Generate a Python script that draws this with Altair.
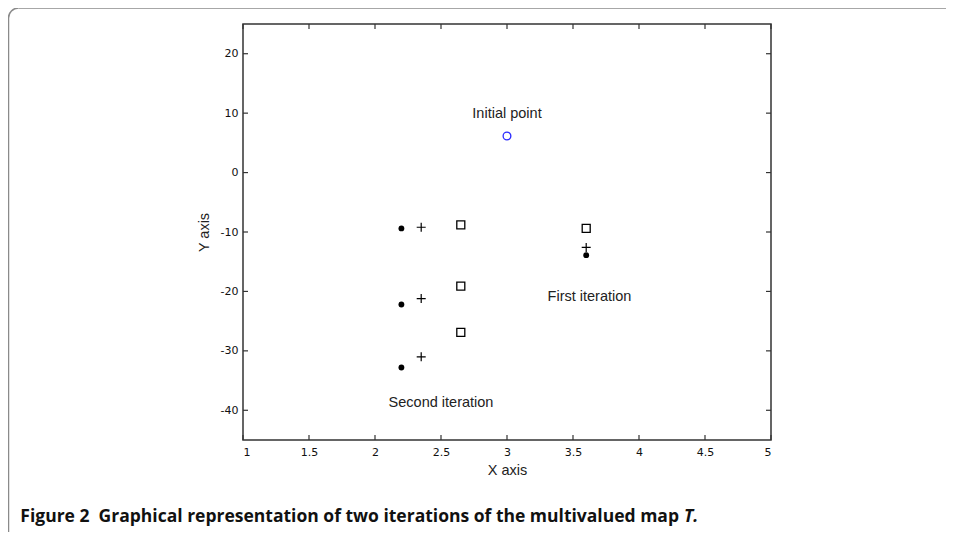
import altair as alt
import pandas as pd

# ---- data ----
x_ticks = [1, 1.5, 2, 2.5, 3, 3.5, 4, 4.5, 5]
y_ticks = [-40, -30, -20, -10, 0, 10, 20]

initial_x = [3.0]
initial_y = [6.15]

dot_x = [2.2, 2.2, 2.2, 3.6]
dot_y = [-9.4, -22.2, -32.8, -13.9]

plus_x = [2.35, 2.35, 2.35, 3.6]
plus_y = [-9.2, -21.2, -31.0, -12.6]

square_x = [2.65, 2.65, 2.65, 3.6]
square_y = [-8.8, -19.1, -26.9, -9.4]

label_text = ["Initial point", "First iteration", "Second iteration"]
label_x = [3.0, 3.625, 2.5]
label_y = [9.8, -21.0, -38.8]

caption_main = "Figure 2\u00a0 Graphical representation of two iterations of the multivalued map"
caption_tail = "T."

# ---- layout ----
W, H = 528, 416
FONT = "Liberation Sans"
TICKFONT = "DejaVu Sans"
INK = "#333333"
BORDER = "#8a8a8a"

xs = alt.Scale(domain=[1, 5], nice=False, zero=False)
ys = alt.Scale(domain=[-45, 25], nice=False, zero=False)

xaxis = alt.Axis(values=x_ticks, labelExpr="toString(datum.value)", title="X axis",
                 ticks=False, domain=False, grid=False, labelPadding=6, titlePadding=6,
                 labelFontSize=11, titleFontSize=14.5, labelColor="#111", titleColor="#222",
                 labelFont=TICKFONT, titleFont=FONT, titleFontWeight="normal")
yaxis = alt.Axis(values=y_ticks, labelExpr="toString(datum.value)", title="Y axis",
                 ticks=False, domain=False, grid=False, labelPadding=5, titlePadding=9,
                 labelFontSize=11, titleFontSize=14.5, labelColor="#111", titleColor="#222",
                 labelFont=TICKFONT, titleFont=FONT, titleFontWeight="normal")

X = alt.X("x:Q", scale=xs, axis=xaxis)
Y = alt.Y("y:Q", scale=ys, axis=yaxis)

df_init = pd.DataFrame({"x": initial_x, "y": initial_y})
df_dot = pd.DataFrame({"x": dot_x, "y": dot_y})
df_plus = pd.DataFrame({"x": plus_x, "y": plus_y})
df_sq = pd.DataFrame({"x": square_x, "y": square_y})
df_lab = pd.DataFrame({"x": label_x, "y": label_y, "t": label_text})
df_xt = pd.DataFrame({"x": x_ticks})
df_yt = pd.DataFrame({"y": y_ticks})
one = pd.DataFrame({"a": [0]})

init = alt.Chart(df_init).mark_point(shape="circle", filled=False, color="#2b2bff",
                                     strokeWidth=1.3, size=60, opacity=1).encode(x=X, y=Y)
dots = alt.Chart(df_dot).mark_point(shape="circle", filled=True, color="black",
                                    size=34, opacity=1).encode(x=X, y=Y)
plus = alt.Chart(df_plus).mark_point(shape="M-1,0L1,0M0,-1L0,1", filled=False, color="black",
                                     strokeWidth=1.2, size=81, opacity=1).encode(x=X, y=Y)
squares = alt.Chart(df_sq).mark_point(shape="square", filled=False, color="black",
                                      strokeWidth=1.3, size=64, opacity=1).encode(x=X, y=Y)
labels = alt.Chart(df_lab).mark_text(font=FONT, fontSize=14.5, color="#222", align="center",
                                     baseline="middle").encode(x=X, y=Y, text="t:N")

xt_bot = alt.Chart(df_xt).mark_rule(color=INK, strokeWidth=1.2).encode(
    x=X, y=alt.value(H), y2=alt.value(H - 5))
xt_top = alt.Chart(df_xt).mark_rule(color=INK, strokeWidth=1.2).encode(
    x=X, y=alt.value(0), y2=alt.value(5))
yt_left = alt.Chart(df_yt).mark_rule(color=INK, strokeWidth=1.2).encode(
    y=Y, x=alt.value(0), x2=alt.value(5))
yt_right = alt.Chart(df_yt).mark_rule(color=INK, strokeWidth=1.2).encode(
    y=Y, x=alt.value(W), x2=alt.value(W - 5))

# outer figure frame: only its top and left edges are visible, with a rounded corner
BX, BY, R = -234.5, -16.0, 10.0
top_edge = alt.Chart(one).mark_rule(color=BORDER, strokeWidth=1.5).encode(
    x=alt.value(BX + R), x2=alt.value(W + 175), y=alt.value(BY))
left_edge = alt.Chart(one).mark_rule(color=BORDER, strokeWidth=1.5).encode(
    x=alt.value(BX), y=alt.value(BY + R), y2=alt.value(H + 92))
corner = alt.Chart(one).mark_arc(fill="transparent", stroke=BORDER, strokeWidth=1.5,
                                 innerRadius=R, outerRadius=R,
                                 theta=4.71238898, theta2=6.28318531).encode(
    x=alt.value(BX + R), y=alt.value(BY + R))

cap_main = alt.Chart(one).mark_text(font="Open Sans", fontSize=17.5, fontWeight="bold",
                                    color="#111", align="right", baseline="alphabetic",
                                    text=caption_main).encode(
    x=alt.value(679 - 243), y=alt.value(521.5 - 24))
cap_tail = alt.Chart(one).mark_text(font="Open Sans", fontSize=17.5, fontWeight="bold",
                                    fontStyle="italic", color="#111", align="left",
                                    baseline="alphabetic", text=caption_tail).encode(
    x=alt.value(684 - 243), y=alt.value(521.5 - 24))

chart = alt.layer(top_edge, left_edge, corner, xt_bot, xt_top, yt_left, yt_right,
                  init, dots, plus, squares, labels, cap_main, cap_tail).properties(
    width=W, height=H, autosize="none",
    padding={"left": 235, "top": 16, "right": 175, "bottom": 92},
).configure_view(stroke=INK, strokeWidth=1.5)

chart.save("out.html", embed_options={"renderer": "svg", "actions": False})
